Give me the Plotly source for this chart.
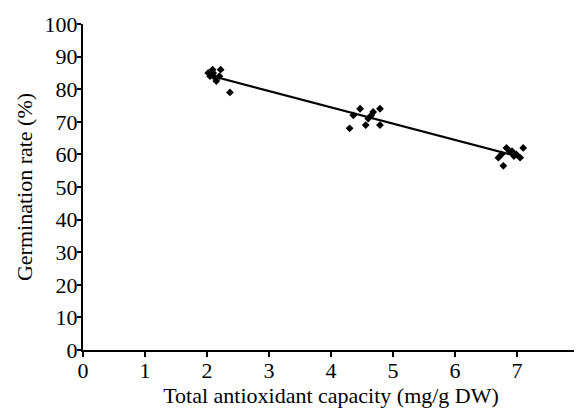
import numpy as np
import plotly.graph_objects as go

# Data
capacity = [2.02, 2.05, 2.09, 2.10, 2.13, 2.15, 2.20, 2.22, 2.37,
            4.30, 4.36, 4.47, 4.56, 4.60, 4.65, 4.68, 4.79, 4.79,
            6.70, 6.75, 6.78, 6.83, 6.88, 6.92, 6.95, 6.99, 7.05, 7.10]
germination = [85.0, 84.0, 86.0, 85.0, 83.5, 82.5, 84.0, 86.0, 79.0,
               68.0, 72.0, 74.0, 69.0, 71.0, 72.0, 73.0, 69.0, 74.0,
               59.0, 60.0, 56.5, 62.0, 61.0, 61.0, 59.5, 60.0, 59.0, 62.0]

x_ticks = [0, 1, 2, 3, 4, 5, 6, 7, 8]
y_ticks = [0, 10, 20, 30, 40, 50, 60, 70, 80, 90, 100]

# Linear regression trend line
slope, intercept = np.polyfit(capacity, germination, 1)
line_x = [min(capacity), max(capacity)]
line_y = [slope * v + intercept for v in line_x]

fig = go.Figure()
fig.add_trace(go.Scatter(x=line_x, y=line_y, mode="lines",
                         line=dict(color="black", width=2.2),
                         showlegend=False, hoverinfo="skip", cliponaxis=False))
fig.add_trace(go.Scatter(x=capacity, y=germination, mode="markers",
                         marker=dict(symbol="diamond", color="black", size=6),
                         showlegend=False))

font = dict(family="Liberation Serif", size=22, color="black")

# page has an 8px body margin, so figure is 574x403 placed at (8, 8)
fig.update_layout(
    width=574, height=403,
    margin=dict(l=75, r=3, t=16, b=61, autoexpand=False),
    paper_bgcolor="white", plot_bgcolor="white",
    font=font,
    showlegend=False,
)
fig.update_xaxes(
    range=[0, 8], tickvals=x_ticks, ticktext=[str(v) for v in x_ticks],
    showgrid=False, zeroline=False, automargin=False,
    showline=True, linecolor="black", linewidth=2,
    ticks="outside", ticklen=5, tickwidth=2, tickcolor="black",
    ticklabelstandoff=-5, ticklabeloverflow="allow",
    title=dict(text="Total antioxidant capacity (mg/g DW)", standoff=1,
               font=font),
    tickfont=font,
)
fig.update_yaxes(
    range=[0, 100], tickvals=y_ticks, ticktext=[str(v) for v in y_ticks],
    showgrid=False, zeroline=False, automargin=False,
    showline=True, linecolor="black", linewidth=2,
    ticks="outside", ticklen=4, tickwidth=2, tickcolor="black",
    ticklabelstandoff=-5, ticklabeloverflow="allow",
    title=dict(text="Germination rate (%)", standoff=6, font=font),
    tickfont=font,
)

fig.write_html("out.html")
